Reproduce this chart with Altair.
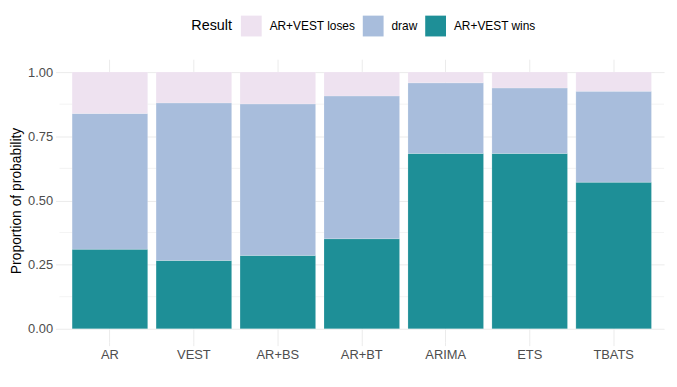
import altair as alt
import pandas as pd

models = ["AR", "VEST", "AR+BS", "AR+BT", "ARIMA", "ETS", "TBATS"]
wins = [0.310, 0.266, 0.286, 0.351, 0.683, 0.683, 0.571]
draw = [0.529, 0.614, 0.590, 0.556, 0.275, 0.255, 0.354]
loses = [0.161, 0.120, 0.124, 0.093, 0.042, 0.062, 0.075]

results = ["AR+VEST loses", "draw", "AR+VEST wins"]
colors = ["#EEE2F0", "#A8BDDC", "#1E8F97"]
major_breaks = [0, 0.25, 0.5, 0.75, 1.0]
minor_breaks = [0.125, 0.375, 0.625, 0.875]

rows = []
for i, m in enumerate(models):
    rows.append({"model": m, "Result": "AR+VEST wins", "p": wins[i], "ord": 0})
    rows.append({"model": m, "Result": "draw", "p": draw[i], "ord": 1})
    rows.append({"model": m, "Result": "AR+VEST loses", "p": loses[i], "ord": 2})
df = pd.DataFrame(rows)

FONT = "Liberation Sans"
W, H = 610, 285

yscale = alt.Scale(domain=[-0.05, 1.05], nice=False)
yaxis = alt.Axis(values=major_breaks, format=".2f",
                 grid=True, gridColor="#EBEBEB", gridWidth=1,
                 domain=False, ticks=True, tickColor="#EBEBEB", tickSize=4,
                 labelColor="#4D4D4D", labelFontSize=13, labelFont=FONT,
                 labelPadding=3, titleFont=FONT, titleFontSize=14,
                 titleFontWeight="normal", titleColor="black", titlePadding=4)

minor = alt.Chart(pd.DataFrame({"v": minor_breaks})).mark_rule(
    color="#EBEBEB", strokeWidth=0.6
).encode(y=alt.Y("v:Q", scale=yscale, axis=yaxis, title="Proportion of probability"))

bars = alt.Chart(df).mark_bar(stroke="white", strokeWidth=0.3, strokeOpacity=0.6).encode(
    x=alt.X("model:N", sort=models, title=None,
            scale=alt.Scale(paddingInner=0.1, paddingOuter=0.15),
            axis=alt.Axis(labelAngle=0, grid=True, gridColor="#EBEBEB", gridWidth=1,
                          domain=False, ticks=True, tickColor="#EBEBEB", tickSize=4,
                          labelColor="#4D4D4D", labelFontSize=13, labelFont=FONT,
                          labelPadding=3, tickBand="center")),
    y=alt.Y("p:Q", stack="zero", title="Proportion of probability",
            scale=yscale, axis=yaxis),
    color=alt.Color("Result:N", scale=alt.Scale(domain=results, range=colors),
                    legend=alt.Legend(orient="none", legendX=133, legendY=-44,
                                      direction="horizontal", titleOrient="left",
                                      title="Result", titleFont=FONT, titleFontSize=14.5,
                                      titleFontWeight="normal", titleColor="black",
                                      titlePadding=8, titleBaseline="middle",
                                      labelFont=FONT, labelFontSize=12, labelColor="black",
                                      labelOffset=8, columnPadding=7,
                                      symbolType="square", symbolSize=441,
                                      symbolStrokeWidth=0, symbolOpacity=1)),
    order=alt.Order("ord:Q", sort="ascending"),
)

chart = alt.layer(minor, bars).properties(
    width=W, height=H,
    background="white",
    autosize=alt.AutoSizeParams(type="none"),
    padding={"left": 52, "top": 50, "right": 5, "bottom": 40},
).configure_view(stroke=None)

chart.save("out.html", embed_options={"renderer": "svg", "actions": False})
